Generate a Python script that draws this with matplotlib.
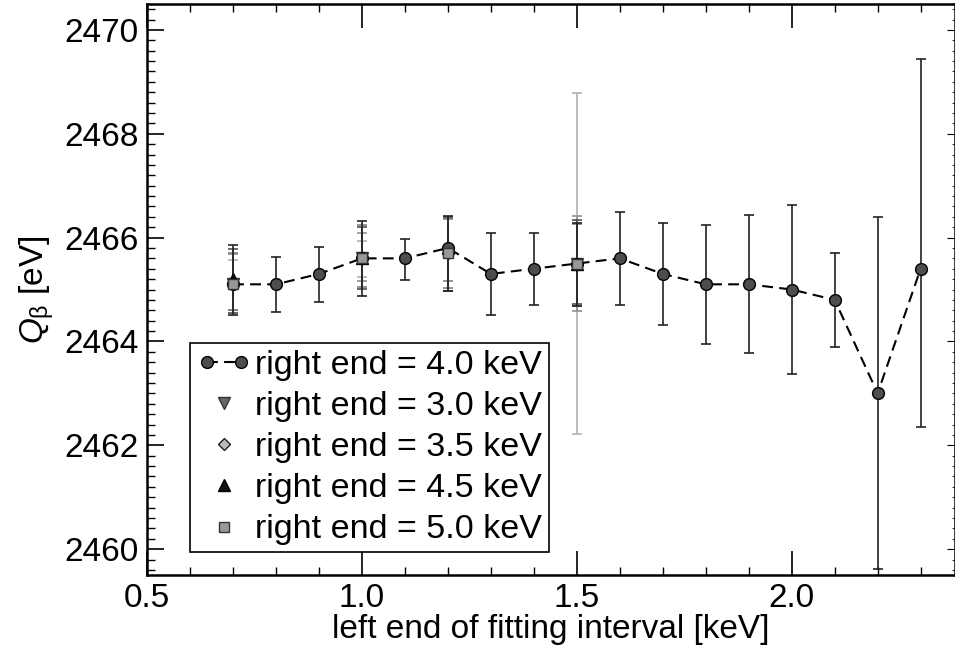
import numpy as np
import matplotlib
matplotlib.use("Agg")
import matplotlib.pyplot as plt
from matplotlib.lines import Line2D
from matplotlib.legend_handler import HandlerLine2D
from matplotlib.ticker import MultipleLocator, FormatStrFormatter

plt.rcParams['font.family'] = ['Liberation Sans', 'DejaVu Sans']
plt.rcParams['mathtext.fontset'] = 'custom'
plt.rcParams['mathtext.rm'] = 'Liberation Sans'
plt.rcParams['mathtext.it'] = 'Liberation Sans:italic'

# right end = 4.0 keV, full scan of the left end
x40 = [0.7, 0.8, 0.9, 1.0, 1.1, 1.2, 1.3, 1.4, 1.5, 1.6, 1.7, 1.8, 1.9, 2.0, 2.1, 2.2, 2.3]
q40 = [2465.1, 2465.1, 2465.3, 2465.6, 2465.6, 2465.8, 2465.3, 2465.4, 2465.5, 2465.6,
       2465.3, 2465.1, 2465.1, 2465.0, 2464.8, 2463.0, 2465.4]
hi40 = [2465.86, 2465.63, 2465.82, 2466.31, 2465.98, 2466.42, 2466.09, 2466.08, 2466.29, 2466.49,
        2466.28, 2466.25, 2466.43, 2466.62, 2465.71, 2466.40, 2469.44]
lo40 = [2464.51, 2464.56, 2464.76, 2464.88, 2465.19, 2464.98, 2464.50, 2464.71, 2464.69, 2464.71,
        2464.32, 2463.95, 2463.77, 2463.37, 2463.89, 2459.62, 2462.35]

# other right ends, only a few left ends
xs = [0.7, 1.0, 1.2, 1.5]
q30 = [2465.1, 2465.6, 2465.7, 2465.5]
hi30 = [2465.57, 2465.94, 2466.36, 2468.78]
lo30 = [2464.60, 2465.25, 2465.03, 2462.22]
q35 = [2465.1, 2465.6, 2465.7, 2465.5]
hi35 = [2465.68, 2466.08, 2466.36, 2466.42]
lo35 = [2464.60, 2465.17, 2465.03, 2464.59]
q45 = [2465.2, 2465.6, 2465.8, 2465.5]
hi45 = [2465.78, 2466.20, 2466.40, 2466.33]
lo45 = [2464.55, 2465.01, 2464.98, 2464.73]
q50 = [2465.1, 2465.6, 2465.7, 2465.5]
hi50 = [2465.70, 2466.25, 2466.38, 2466.27]
lo50 = [2464.60, 2465.05, 2465.17, 2464.69]


def err(q, hi, lo):
    q = np.array(q)
    return [q - np.array(lo), np.array(hi) - q]


fig = plt.figure(figsize=(9.55, 6.55), dpi=100)
ax = fig.add_axes([0.154, 0.122, 0.846, 0.872])

eb = dict(fmt='none', elinewidth=1.2, capsize=3.5, capthick=1.2)
ax.errorbar(xs, q30, yerr=err(q30, hi30, lo30), ecolor='#b0b0b0', **eb)
ax.errorbar(xs, q35, yerr=err(q35, hi35, lo35), ecolor='#909090', **eb)
ax.errorbar(xs, q50, yerr=err(q50, hi50, lo50), ecolor='#808080', **eb)
ax.errorbar(xs, q45, yerr=err(q45, hi45, lo45), ecolor='#505050', **eb)
ax.errorbar(x40, q40, yerr=err(q40, hi40, lo40), ecolor='#222222', **eb)

dash = (0, (5.2, 3))
ax.plot(x40, q40, ls=dash, color='black', lw=1.5, marker='o', ms=8.5,
        mfc='#4d4d4d', mec='black', mew=1, zorder=5)
ax.plot(xs, q30, ls='none', marker='v', ms=8, mfc='#666666', mec='#333333', zorder=4)
ax.plot(xs, q35, ls='none', marker='D', ms=6, mfc='#bbbbbb', mec='#222222', zorder=4)
ax.plot(xs, q45, ls='none', marker='^', ms=8.5, mfc='#111111', mec='black', zorder=4)
ax.plot(xs, q50, ls='none', marker='s', ms=7.5, mfc='#999999', mec='#333333', zorder=6)

ax.set_xlim(0.5, 2.38)
ax.set_ylim(2459.5, 2470.5)
ax.xaxis.set_major_locator(MultipleLocator(0.5))
ax.xaxis.set_minor_locator(MultipleLocator(0.1))
ax.xaxis.set_major_formatter(FormatStrFormatter('%.1f'))
ax.yaxis.set_major_locator(MultipleLocator(2))
ax.yaxis.set_minor_locator(MultipleLocator(0.2))
ax.tick_params(axis='x', which='major', direction='in', length=17, width=1.2, top=True, labelsize=24, pad=6)
ax.tick_params(axis='x', which='minor', direction='in', length=6, width=1, top=True)
ax.tick_params(axis='y', which='major', direction='in', length=12, width=1.2, right=False, labelsize=24, pad=6)
ax.tick_params(axis='y', which='minor', direction='in', length=6, width=1, right=False)
for s in ax.spines.values():
    s.set_linewidth(1.8)

sec = ax.secondary_yaxis('right')
sec.yaxis.set_major_locator(MultipleLocator(2))
sec.yaxis.set_minor_locator(MultipleLocator(0.2))
sec.tick_params(which='major', direction='in', length=6, labelright=False)
sec.tick_params(which='minor', direction='in', length=2.5)

ax.set_xlabel('left end of fitting interval [keV]', fontsize=24, labelpad=0)
ax.set_ylabel(r'$Q_{\mathrm{\beta}}$ [eV]', fontsize=24, labelpad=6)

h40 = Line2D([], [], ls=dash, color='black', lw=1.5, marker='o', ms=8.5, mfc='#4d4d4d', mec='black')
h30 = Line2D([], [], ls='none', marker='v', ms=8, mfc='#666666', mec='#333333')
h35 = Line2D([], [], ls='none', marker='D', ms=6, mfc='#bbbbbb', mec='#222222')
h45 = Line2D([], [], ls='none', marker='^', ms=8.5, mfc='#111111', mec='black')
h50 = Line2D([], [], ls='none', marker='s', ms=7.5, mfc='#999999', mec='#333333')
labels = ['right end = 4.0 keV', 'right end = 3.0 keV', 'right end = 3.5 keV',
          'right end = 4.5 keV', 'right end = 5.0 keV']
leg = ax.legend([h40, h30, h35, h45, h50], labels, loc='lower left',
                bbox_to_anchor=(0.053, 0.040), fontsize=24.5, frameon=True, fancybox=False,
                edgecolor='black', framealpha=1, handlelength=1.6, handletextpad=0.12,
                labelspacing=0.3, borderpad=0.2, borderaxespad=0,
                handler_map={h40: HandlerLine2D(numpoints=2),
                             h30: HandlerLine2D(numpoints=1), h35: HandlerLine2D(numpoints=1),
                             h45: HandlerLine2D(numpoints=1), h50: HandlerLine2D(numpoints=1)})
leg.get_frame().set_linewidth(1.2)

fig.savefig('out.png', dpi=100)
